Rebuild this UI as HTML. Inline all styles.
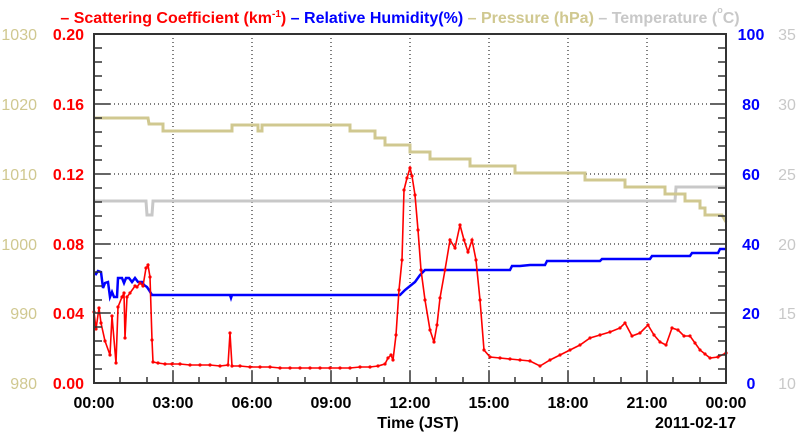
<!DOCTYPE html>
<html><head><style>body{margin:0;background:#fff}svg{display:block}</style></head><body>
<svg width="800" height="434" xmlns="http://www.w3.org/2000/svg" font-family="Liberation Sans, sans-serif">
<defs><marker id="d" markerWidth="4" markerHeight="4" refX="2" refY="2" markerUnits="userSpaceOnUse"><circle cx="2" cy="2" r="1.6" fill="#ff0000"/></marker></defs>
<g font-size="16" font-weight="bold" text-anchor="middle">
<text x="400" y="23"><tspan fill="#ff0000">– Scattering Coefficient (km<tspan font-size="10" dy="-6">-1</tspan><tspan dy="6">)</tspan></tspan><tspan fill="#0000ff"> – Relative Humidity(%)</tspan><tspan fill="#d0c890"> – Pressure (hPa)</tspan><tspan fill="#c8c8c8"> – Temperature (</tspan><tspan fill="#c8c8c8" font-size="9" dy="-10">o</tspan><tspan fill="#c8c8c8" dy="10">C)</tspan></text>
</g>
<g stroke="#000" stroke-dasharray="1,3" stroke-width="1">
<line x1="173" y1="34" x2="173" y2="383"/><line x1="252" y1="34" x2="252" y2="383"/><line x1="331" y1="34" x2="331" y2="383"/><line x1="410" y1="34" x2="410" y2="383"/><line x1="489" y1="34" x2="489" y2="383"/><line x1="568" y1="34" x2="568" y2="383"/><line x1="647" y1="34" x2="647" y2="383"/>
<line x1="94" y1="104" x2="726" y2="104"/><line x1="94" y1="174" x2="726" y2="174"/><line x1="94" y1="244" x2="726" y2="244"/><line x1="94" y1="313" x2="726" y2="313"/>
</g>
<g fill="none" stroke-width="3">
<polyline stroke="#c8c8c8" points="94,201 146,201 147,215 152,215 153,201 675,201 676,187 726,187"/>
<polyline stroke="#d0c890" points="94,118 148,118 149,124 163,124 163,131 232,131 232,125 258,125 258,131 262,131 262,125 350,125 350,131 375,131 375,138 385,138 385,145 410,145 410,152 430,152 430,159 470,159 470,166 515,166 515,173 585,173 585,180 625,180 625,187 665,187 665,194 685,194 685,201 700,201 700,208 705,208 705,215 722,215 726,222"/>
</g>
<polyline fill="none" stroke="#0000ff" stroke-width="2.5" points="94,272 96,274 98,271 101,272 103,288 105,283 108,282 110,297 112,292 114,297 117,297 118,278 122,278 124,283 126,278 129,278 132,282 135,278 138,282 142,282 144,285 147,287 149,290 152,295 230,295 231,298 232,295 400,295 405,290 415,282 420,275 425,270 510,270 512,266 520,266 530,265 545,265 547,261 600,261 602,259 650,259 652,256 690,256 692,253 718,253 720,249 726,249"/>
<polyline fill="none" stroke="#ff0000" stroke-width="1.6" marker-start="url(#d)" marker-mid="url(#d)" marker-end="url(#d)" points="94,312 96,329 99,308 101,323 105,341 110,355 112,316 116,363 118,307 122,297 124,293 125,338 127,297 130,293 135,286 137,287 140,283 143,286 146,268 148,265 150,277 152,340 153,362 158,363 165,364 172,364 180,364 190,365 200,365 210,365 220,366 228,365 230,333 232,366 240,366 250,367 260,367 270,367 280,368 290,368 300,368 310,368 320,368 330,368 340,368 350,368 360,367 370,367 378,366 385,364 388,358 391,355 393,360 396,335 399,290 402,260 404,190 407,178 410,168 412,176 415,195 418,230 421,270 425,300 430,330 434,342 437,325 440,298 445,270 450,240 455,248 460,225 464,240 468,252 472,240 476,260 480,300 484,350 490,357 500,358 510,359 520,360 530,361 540,366 550,360 560,355 570,350 580,345 590,338 600,335 610,332 620,328 625,323 632,336 640,333 648,325 654,335 660,342 666,345 672,328 678,330 684,336 690,336 695,343 700,350 705,354 710,358 718,357 726,353"/>
<rect x="94" y="34" width="632" height="349" fill="none" stroke="#333" stroke-width="2"/>
<g stroke="#333" stroke-width="1.5">
<path d="M94,48h8M94,62h8M94,76h8M94,90h8M94,104h16M94,118h8M94,132h8M94,146h8M94,160h8M94,174h16M94,188h8M94,202h8M94,216h8M94,230h8M94,244h16M94,258h8M94,272h8M94,286h8M94,300h8M94,313h16M94,327h8M94,341h8M94,355h8M94,369h8"/>
<path d="M726,48h-8M726,62h-8M726,76h-8M726,90h-8M726,104h-16M726,118h-8M726,132h-8M726,146h-8M726,160h-8M726,174h-16M726,188h-8M726,202h-8M726,216h-8M726,230h-8M726,244h-16M726,258h-8M726,272h-8M726,286h-8M726,300h-8M726,313h-16M726,327h-8M726,341h-8M726,355h-8M726,369h-8"/>
<path d="M120,383v-6M147,383v-6M173,383v-12M199,383v-6M226,383v-6M252,383v-12M278,383v-6M305,383v-6M331,383v-12M357,383v-6M384,383v-6M410,383v-12M436,383v-6M463,383v-6M489,383v-12M515,383v-6M542,383v-6M568,383v-12M594,383v-6M621,383v-6M647,383v-12M673,383v-6M700,383v-6"/>
</g>
<g font-size="16" fill="#d0c890" text-anchor="end">
<text x="37" y="40">1030</text><text x="37" y="110">1020</text><text x="37" y="180">1010</text><text x="37" y="250">1000</text><text x="37" y="319">990</text><text x="37" y="389">980</text>
</g>
<g font-size="16" fill="#ff0000" font-weight="bold" text-anchor="end">
<text x="84" y="40">0.20</text><text x="84" y="110">0.16</text><text x="84" y="180">0.12</text><text x="84" y="250">0.08</text><text x="84" y="319">0.04</text><text x="84" y="389">0.00</text>
</g>
<g font-size="16" fill="#0000ff" font-weight="bold" text-anchor="middle">
<text x="751" y="40">100</text><text x="751" y="110">80</text><text x="751" y="180">60</text><text x="751" y="250">40</text><text x="751" y="319">20</text><text x="751" y="389">0</text>
</g>
<g font-size="16" fill="#c8c8c8" text-anchor="middle">
<text x="787" y="40">35</text><text x="787" y="110">30</text><text x="787" y="180">25</text><text x="787" y="250">20</text><text x="787" y="319">15</text><text x="787" y="389">10</text>
</g>
<g font-size="16" font-weight="bold" text-anchor="middle">
<text x="94" y="408">00:00</text><text x="173" y="408">03:00</text><text x="252" y="408">06:00</text><text x="331" y="408">09:00</text><text x="410" y="408">12:00</text><text x="489" y="408">15:00</text><text x="568" y="408">18:00</text><text x="647" y="408">21:00</text><text x="726" y="408">00:00</text>
<text x="418" y="428">Time (JST)</text>
<text x="736" y="428" text-anchor="end">2011-02-17</text>
</g>
</svg>
</body></html>
